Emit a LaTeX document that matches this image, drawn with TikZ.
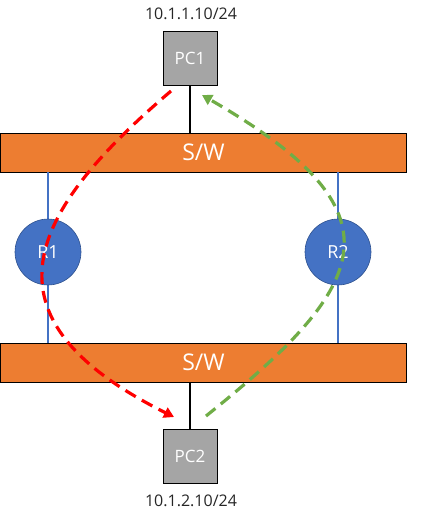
\documentclass[tikz,border=0pt]{standalone}
\usepackage{fontspec}
\setmainfont{Open Sans}
\usetikzlibrary{arrows.meta}
\definecolor{swor}{HTML}{ED7D31}
\definecolor{rblue}{HTML}{4472C4}
\definecolor{rbord}{HTML}{2F528F}
\definecolor{pcgray}{HTML}{A5A5A5}
\definecolor{pathred}{HTML}{FF0000}
\definecolor{pathgreen}{HTML}{70AD47}
\tikzset{
  pcbox/.style={draw=black, line width=0.9pt, fill=pcgray, minimum width=54pt, minimum height=54pt, inner sep=0pt, text=white, font=\fontsize{17}{20}\selectfont},
  swbox/.style={draw=black, line width=0.9pt, fill=swor, minimum width=406pt, minimum height=39pt, inner sep=0pt, text=white, font=\fontsize{23}{26}\selectfont},
  router/.style={circle, draw=rbord, line width=0.6pt, fill=rblue, minimum size=66pt, inner sep=0pt, text=white, font=\fontsize{18}{21}\selectfont},
  iplabel/.style={text=black!85, font=\fontsize{16}{19}\selectfont, inner sep=0pt},
  wire/.style={black, line width=2.4pt},
  bluewire/.style={rblue, line width=2pt},
  flow/.style={line width=3.2pt, dash pattern=on 12pt off 7pt, -{Triangle[length=10pt,width=11pt]}}
}
\begin{document}
\begin{tikzpicture}[x=1pt,y=-1pt]
\useasboundingbox (0,0) rectangle (437,520);
% nodes
\node[pcbox] (pc1) at (190,58) {PC1};
\node[pcbox] (pc2) at (190,456) {PC2};
\node[iplabel] (ip1) at (191,14) {10.1.1.10/24};
\node[iplabel] (ip2) at (191,501) {10.1.2.10/24};
\node[swbox] (sw1) at (203.5,152.5) {S/W};
\node[swbox] (sw2) at (203.5,362.5) {S/W};
% wires
\draw[wire] (pc1.south) -- (pc1.south |- sw1.north);
\draw[wire] (pc2.north) -- (pc2.north |- sw2.south);
\coordinate (r1pos) at (48,252);
\coordinate (r2pos) at (338,252);
\draw[bluewire] (r1pos |- sw1.south) -- (r1pos |- sw2.north);
\draw[bluewire] (r2pos |- sw1.south) -- (r2pos |- sw2.north);
\node[router] (r1) at (r1pos) {R1};
\node[router] (r2) at (r2pos) {R2};
% flows
\coordinate (redstart) at (171,91);
\coordinate (redend) at (174,417);
\coordinate (greenstart) at (206,416);
\coordinate (greenend) at (202,95);
\draw[flow, pathred] (redstart) .. controls (28,213) and (-26,317) .. (redend);
\draw[flow, pathgreen] (greenstart) .. controls (371,284) and (407,213) .. (greenend);
\end{tikzpicture}
\end{document}
